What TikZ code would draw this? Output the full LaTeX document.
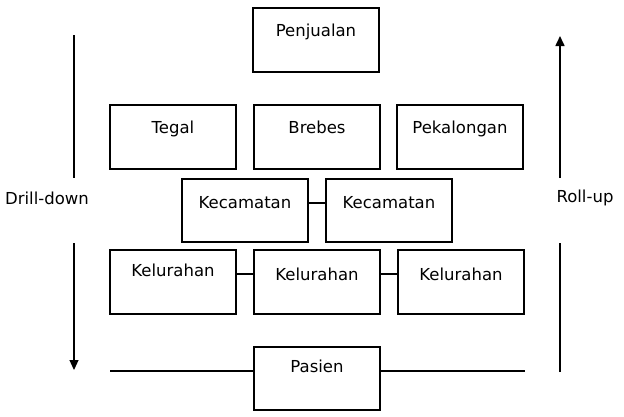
\documentclass[tikz,border=0pt]{standalone}
\usepackage{fontspec}
\setmainfont{DejaVu Sans}
\usetikzlibrary{arrows.meta}

\begin{document}
\begin{tikzpicture}[x=1pt, y=-1pt, node distance=144pt,
        box/.style={draw, line width=1.6pt, inner sep=0pt, minimum width=126pt, text height=28pt, text depth=36pt, font=\fontsize{16.5pt}{19pt}\selectfont},
        sidetext/.style={inner sep=0pt, font=\fontsize{16.5pt}{19pt}\selectfont}]
        \useasboundingbox (0,0) rectangle (624,416);

        % levels
        \node[box] (penjualan) at (316,40) {Penjualan};
        \node[box] (tegal) at (173,137) {Tegal};
        \node[box, right of=tegal] (brebes) {Brebes};
        \node[box, right of=brebes, node distance=143pt] (pekalongan) {Pekalongan};
        \node[box, text height=29pt, text depth=34pt] (kec1) at (245,210.5) {Kecamatan};
        \node[box, text height=29pt, text depth=34pt, right of=kec1] (kec2) {Kecamatan};
        \node[box, text height=26pt, text depth=38pt] (kel1) at (173,282) {Kelurahan};
        \node[box, text height=30pt, text depth=34pt, right of=kel1] (kel2) {Kelurahan};
        \node[box, text height=30pt, text depth=34pt, right of=kel2] (kel3) {Kelurahan};
        \node[box, text height=25pt, text depth=38pt] (pasien) at (317,378.5) {Pasien};

        \draw[line width=1.6pt] ([yshift=7.5pt]kec1.east) -- ([yshift=7.5pt]kec2.west);
        \draw[line width=1.6pt] ([yshift=8pt]kel1.east) -- ([yshift=8pt]kel2.west);
        \draw[line width=1.6pt] ([yshift=8pt]kel2.east) -- ([yshift=8pt]kel3.west);

        \coordinate (pasienL) at (110,371);
        \coordinate (pasienR) at (525,371);
        \draw[line width=1.6pt] (pasienL) -- ([yshift=7.5pt]pasien.west);
        \draw[line width=1.6pt] ([yshift=7.5pt]pasien.east) -- (pasienR);

        % drill-down / roll-up
        \node[sidetext] (drill) at (47,198) {Drill-down};
        \node[sidetext] (rollup) at (585,198) {Roll-up};

        \coordinate (dTop) at (74,35);
        \coordinate (dMid) at (74,178);
        \coordinate (dLow) at (74,243);
        \coordinate (dEnd) at (74,370);
        \draw[line width=1.1pt] (dTop) -- (dMid);
        \draw[line width=1.1pt, -{Triangle[length=10pt,width=9pt]}] (dLow) -- (dEnd);

        \coordinate (rBot) at (560,372);
        \coordinate (rLow) at (560,243);
        \coordinate (rMid) at (560,178);
        \coordinate (rTop) at (560,36);
        \draw[line width=1.6pt] (rBot) -- (rLow);
        \draw[line width=1.6pt, -{Triangle[length=10pt,width=9pt]}] (rMid) -- (rTop);
    \end{tikzpicture}
\end{document}
